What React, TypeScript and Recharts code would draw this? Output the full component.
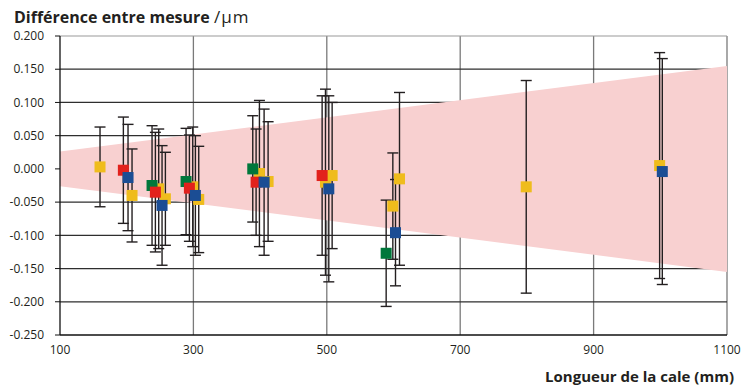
import React from 'react';
import {
  ComposedChart,
  Area,
  Scatter,
  ErrorBar,
  XAxis,
  YAxis,
  CartesianGrid,
  ReferenceLine,
} from 'recharts';

document.body.style.margin = '0';

// Tolérance (bande rose) — limites à 100 mm et 1100 mm
const bandLengths = [100, 1100];
const bandUpper = [0.026, 0.155];
const bandLower = [-0.026, -0.155];

// Laboratoire jaune
const jauneX = [160, 208, 248, 258, 299, 308, 399, 412, 498, 508, 599, 609, 799, 999];
const jauneY = [0.003, -0.04, -0.03, -0.045, -0.027, -0.046, -0.007, -0.019, -0.02, -0.01, -0.056, -0.015, -0.027, 0.005];
const jauneErr = [0.06, 0.07, 0.09, 0.07, 0.09, 0.08, 0.11, 0.09, 0.14, 0.11, 0.08, 0.13, 0.16, 0.17];

// Laboratoire vert
const vertX = [238, 289, 389, 589];
const vertY = [-0.025, -0.019, 0.0, -0.127];
const vertErr = [0.09, 0.08, 0.08, 0.08];

// Laboratoire rouge
const rougeX = [195, 243, 294, 394, 493];
const rougeY = [-0.002, -0.035, -0.029, -0.02, -0.01];
const rougeErr = [0.08, 0.09, 0.08, 0.08, 0.12];

// Laboratoire bleu
const bleuX = [202, 253, 303, 406, 503, 603, 1003];
const bleuY = [-0.013, -0.055, -0.04, -0.02, -0.03, -0.096, -0.004];
const bleuErr = [0.08, 0.09, 0.09, 0.11, 0.14, 0.08, 0.17];

const xTicks = [100, 300, 500, 700, 900, 1100];
const yTicks = [-0.25, -0.2, -0.15, -0.1, -0.05, 0, 0.05, 0.1, 0.15, 0.2];

const bandData = bandLengths.map((x, i) => ({ x, range: [bandLower[i], bandUpper[i]] }));

const toPoints = (xs: number[], ys: number[], errs: number[]) =>
  xs.map((x, i) => ({ x, y: ys[i], err: errs[i] }));

const series = [
  { name: 'jaune', color: '#efbc1c', data: toPoints(jauneX, jauneY, jauneErr) },
  { name: 'vert', color: '#00773b', data: toPoints(vertX, vertY, vertErr) },
  { name: 'rouge', color: '#e2211c', data: toPoints(rougeX, rougeY, rougeErr) },
  { name: 'bleu', color: '#1b4d94', data: toPoints(bleuX, bleuY, bleuErr) },
];

const FONT = '"Open Sans", sans-serif';

const square = (color: string) => (p: any) =>
  <rect x={p.cx - 5.5} y={p.cy - 5.5} width={11} height={11} fill={color} />;

export default function App() {
  return (
    <div style={{ position: 'relative', width: 754, height: 388, background: '#fff', fontFamily: FONT }}>
      <ComposedChart
        width={754}
        height={388}
        data={bandData}
        margin={{ top: 36, right: 27, left: 0, bottom: 0 }}
      >
        <Area
          dataKey="range"
          stroke="none"
          fill="#f8d0d0"
          fillOpacity={1}
          isAnimationActive={false}
        />
        <CartesianGrid
          horizontal={false}
          verticalValues={[300, 500, 700, 900, 1100]}
          stroke="#7a7a7a"
          strokeWidth={1.3}
        />
        <CartesianGrid
          vertical={false}
          horizontalValues={[-0.2, -0.15, -0.1, -0.05, 0, 0.05, 0.1, 0.15]}
          stroke="#2e2e2e"
          strokeWidth={1.3}
        />
        <ReferenceLine y={0.2} stroke="#999" strokeWidth={1.2} />
        <XAxis
          dataKey="x"
          type="number"
          domain={[100, 1100]}
          ticks={xTicks}
          height={53}
          axisLine={{ stroke: '#111', strokeWidth: 1.3 }}
          tickLine={false}
          tick={{ fontSize: 12, fill: '#231f20', fontFamily: FONT }}
          tickMargin={4}
        />
        <YAxis
          type="number"
          domain={[-0.25, 0.2]}
          ticks={yTicks}
          width={60}
          tickFormatter={(v: number) => v.toFixed(3)}
          axisLine={{ stroke: '#111', strokeWidth: 1.3 }}
          tickLine={{ stroke: '#111' }}
          tickSize={5}
          tickMargin={11}
          tick={{ fontSize: 12, fill: '#231f20', fontFamily: FONT }}
        />
        {series.map((s) => (
          <Scatter
            key={s.name}
            data={s.data}
            dataKey="y"
            shape={square(s.color)}
            isAnimationActive={false}
          >
            <ErrorBar dataKey="err" direction="y" width={5.5} stroke="#231f20" strokeWidth={1.4} />
          </Scatter>
        ))}
      </ComposedChart>
      <div
        style={{
          position: 'absolute',
          left: 14,
          top: 5,
          fontSize: 16,
          fontWeight: 700,
          color: '#231f20',
          whiteSpace: 'nowrap',
        }}
      >
        Différence entre mesure <span style={{ fontWeight: 400, fontSize: 17, letterSpacing: 1 }}>/µm</span>
      </div>
      <div
        style={{
          position: 'absolute',
          right: 20,
          top: 366,
          fontSize: 15,
          fontWeight: 700,
          color: '#231f20',
          whiteSpace: 'nowrap',
        }}
      >
        Longueur de la cale (mm)
      </div>
    </div>
  );
}
